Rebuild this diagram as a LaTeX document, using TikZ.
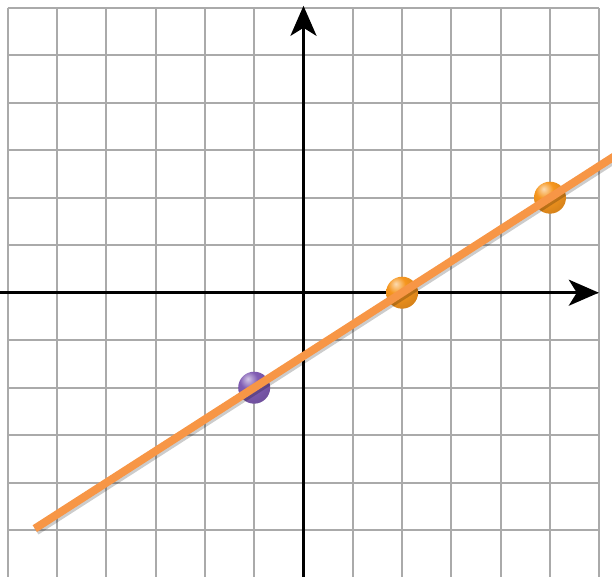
\documentclass[tikz,border=0pt]{standalone}
\usepackage{xcolor}
\usepackage{tikz}
\usetikzlibrary{arrows.meta}
\definecolor{lineorange}{RGB}{247,150,70}
\definecolor{ballorange}{RGB}{246,150,30}
\definecolor{ballpurple}{RGB}{128,92,180}
\definecolor{gridgray}{RGB}{170,170,170}
\pgfdeclareradialshading{orangeball}{\pgfpoint{-10bp}{14bp}}{%
  color(0bp)=(ballorange!35!white); color(14bp)=(ballorange);
  color(38bp)=(ballorange!85!black); color(62bp)=(ballorange!60!black);
  color(100bp)=(ballorange!60!black)}
\pgfdeclareradialshading{purpleball}{\pgfpoint{-10bp}{14bp}}{%
  color(0bp)=(ballpurple!35!white); color(14bp)=(ballpurple);
  color(38bp)=(ballpurple!85!black); color(62bp)=(ballpurple!60!black);
  color(100bp)=(ballpurple!60!black)}

\begin{document}
\begin{tikzpicture}[x=49.3pt, y=47.5pt,
  dot/.style={circle, inner sep=0pt, minimum size=32pt, shading=#1},
  axis/.style={line width=3pt, -{Stealth[length=30pt, width=26pt, inset=8pt]}}]
  % page frame, 12 x 12 squares
  \useasboundingbox (-6.156,-5.985) rectangle (6.258,6.162);
  \clip (-6.156,-5.985) rectangle (6.258,6.162);
  \draw[gridgray, line width=2pt, step=1] (-6,-6) grid (6,6);
  % axes
  \coordinate (xleft) at (-6.2,0);
  \coordinate (xright) at (5.99,0);
  \coordinate (ybottom) at (0,-6.2);
  \coordinate (ytop) at (0,6.04);
  \draw[axis] (xleft) -- (xright);
  \draw[axis] (ybottom) -- (ytop);
  % points on the line y = 2/3 (x - 2)
  \node[dot=purpleball] (p1) at (-1,-2) {};
  \node[dot=orangeball] (p2) at (2,0) {};
  \node[dot=orangeball] (p3) at (5,2) {};
  % the line, with a soft shadow
  \coordinate (lstart) at (-5.45,-4.967);
  \coordinate (lend) at (6.5,3);
  \draw[black, opacity=0.2, line width=8pt, transform canvas={shift={(1.5pt,-2.5pt)}}] (lstart) -- (lend);
  \draw[lineorange, line width=8pt] (lstart) -- (lend);
\end{tikzpicture}
\end{document}
